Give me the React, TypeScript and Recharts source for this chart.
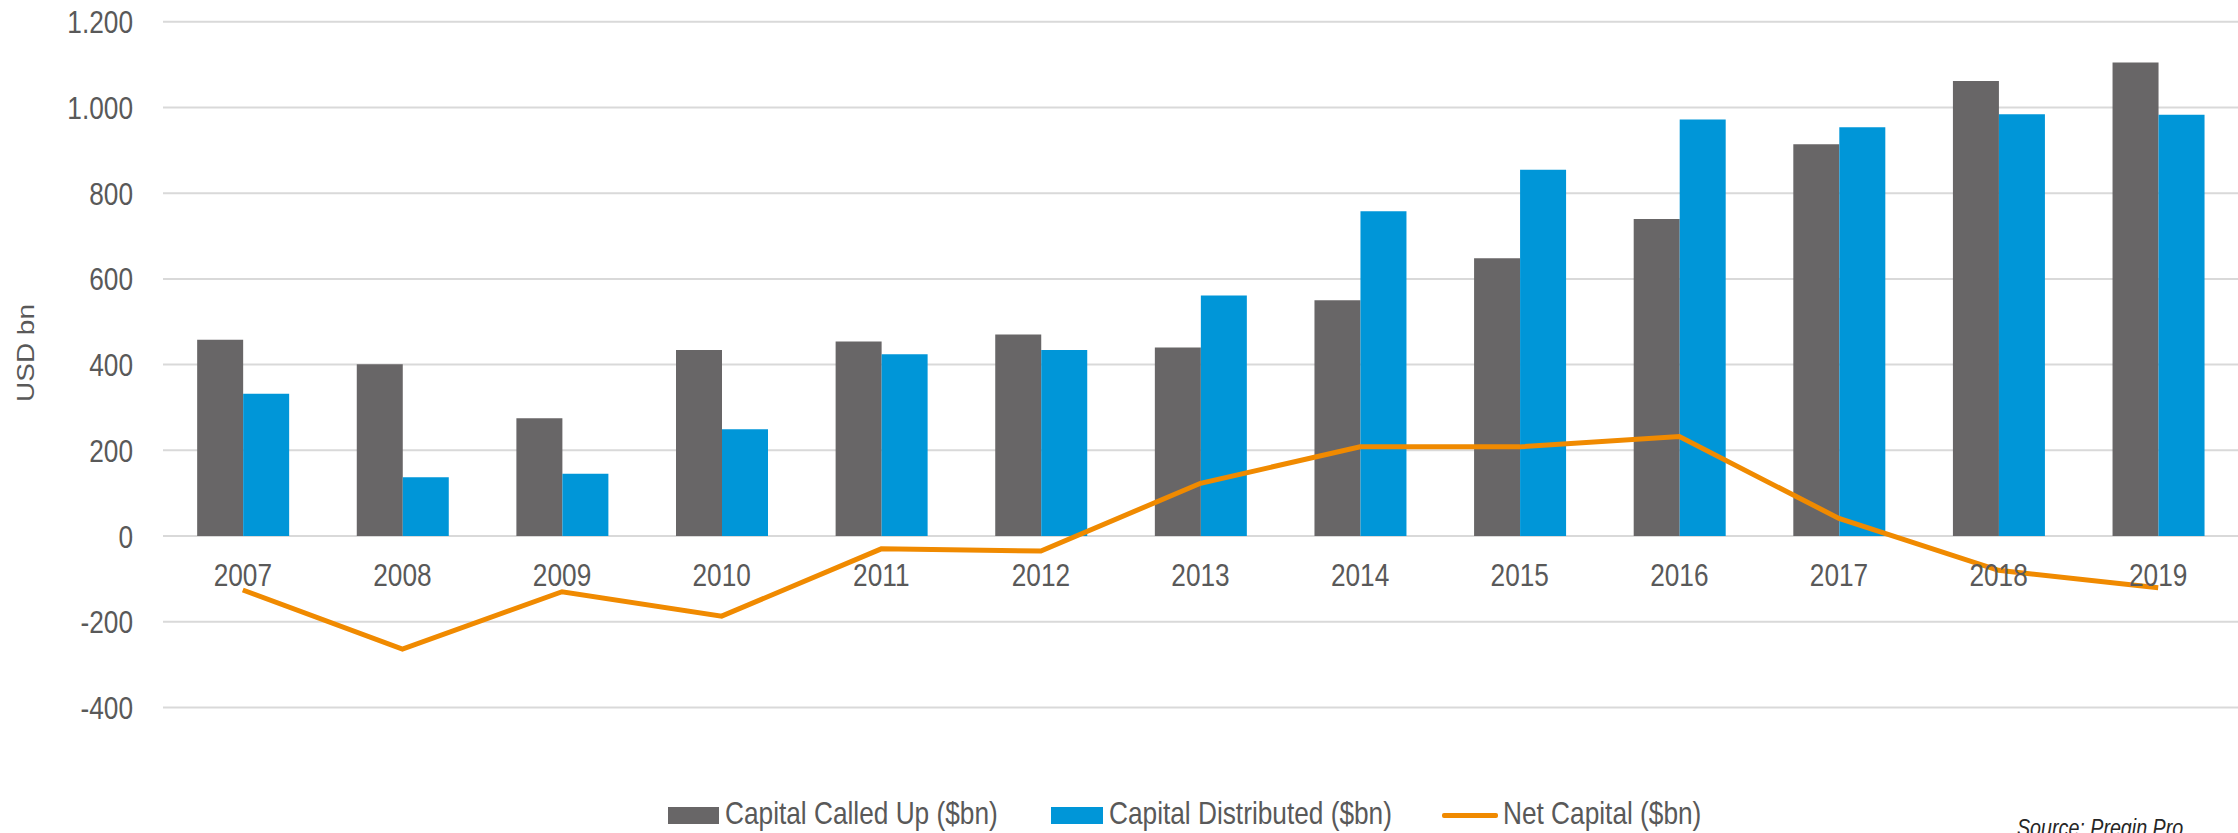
import React from 'react';
import { ComposedChart, Bar, Line, XAxis, YAxis, CartesianGrid } from 'recharts';

const years = ['2007', '2008', '2009', '2010', '2011', '2012', '2013', '2014', '2015', '2016', '2017', '2018', '2019'];
const capitalCalledUp = [458, 401, 275, 434, 454, 470, 440, 550, 648, 740, 914, 1062, 1105];
const capitalDistributed = [332, 137, 145, 249, 424, 434, 561, 758, 855, 972, 954, 984, 983];
const netCapital = [-126, -264, -130, -187, -30, -35, 123, 208, 208, 232, 41, -80, -121];
const yTicks = [-400, -200, 0, 200, 400, 600, 800, 1000, 1200];

const seriesNames = {
  called: 'Capital Called Up ($bn)',
  distributed: 'Capital Distributed ($bn)',
  net: 'Net Capital ($bn)',
};

const data = years.map((year, i) => ({
  year,
  called: capitalCalledUp[i],
  distributed: capitalDistributed[i],
  net: netCapital[i],
}));

const W = 2238;
const H = 833;
const M_TOP = 21.8;
const X_AXIS_H = 125.6;
const Y_AXIS_W = 163;
const Y_MIN = -400;
const Y_MAX = 1200;
const PLOT_H = H - M_TOP - X_AXIS_H;
const ZERO_Y = M_TOP + (PLOT_H * (Y_MAX - 0)) / (Y_MAX - Y_MIN);

const GREY = '#686667';
const BLUE = '#0096D8';
const ORANGE = '#F08A00';
const TEXT = '#595959';
const SANS = '"Liberation Sans", Arial, sans-serif';
const SQUEEZE = 0.82;

const fmt = (v: number) => {
  const a = Math.abs(v);
  const s = a >= 1000 ? `${Math.floor(a / 1000)}.${String(a % 1000).padStart(3, '0')}` : String(a);
  return (v < 0 ? '-' : '') + s;
};

const XTick = (props: any) => {
  const { x, payload } = props;
  return (
    <text
      transform={`translate(${x},${ZERO_Y + 49.7}) scale(${SQUEEZE},1)`}
      textAnchor="middle"
      fontFamily={SANS}
      fontSize={32}
      fill={TEXT}
    >
      {payload.value}
    </text>
  );
};

const YTick = (props: any) => {
  const { y, payload } = props;
  return (
    <text
      transform={`translate(133,${y + 11.5}) scale(${SQUEEZE},1)`}
      textAnchor="end"
      fontFamily={SANS}
      fontSize={32}
      fill={TEXT}
    >
      {fmt(payload.value)}
    </text>
  );
};

const legendText: React.CSSProperties = {
  display: 'inline-block',
  fontFamily: SANS,
  fontSize: 32,
  lineHeight: '36px',
  color: TEXT,
  whiteSpace: 'nowrap',
  transform: `scaleX(${SQUEEZE})`,
  transformOrigin: 'left center',
};

export default function App() {
  return (
    <div style={{ position: 'absolute', left: 0, top: 0, width: W, height: H, overflow: 'hidden', background: '#fff' }}>
      <ComposedChart
        width={W}
        height={H}
        data={data}
        margin={{ top: M_TOP, right: 0, bottom: 0, left: 0 }}
        barCategoryGap="21.4%"
        barGap={0}
      >
        <CartesianGrid vertical={false} stroke="#D9D9D9" strokeWidth={2} />
        <XAxis dataKey="year" axisLine={false} tickLine={false} height={X_AXIS_H} tick={XTick} interval={0} />
        <YAxis
          domain={[Y_MIN, Y_MAX]}
          ticks={yTicks}
          axisLine={false}
          tickLine={false}
          width={Y_AXIS_W}
          tick={YTick}
          interval={0}
        />
        <Bar dataKey="called" name={seriesNames.called} fill={GREY} isAnimationActive={false} />
        <Bar dataKey="distributed" name={seriesNames.distributed} fill={BLUE} isAnimationActive={false} />
        <Line
          dataKey="net"
          name={seriesNames.net}
          type="linear"
          stroke={ORANGE}
          strokeWidth={5}
          dot={false}
          activeDot={false}
          isAnimationActive={false}
        />
      </ComposedChart>

      <svg width={W} height={H} style={{ position: 'absolute', left: 0, top: 0, pointerEvents: 'none' }}>
        <text
          transform="translate(34.3,353) scale(0.88,1) rotate(-90)"
          textAnchor="middle"
          fontFamily={SANS}
          fontSize={28}
          fill={TEXT}
        >
          USD bn
        </text>
        <text
          transform={`translate(2017,836) scale(${SQUEEZE},1)`}
          fontFamily={SANS}
          fontStyle="italic"
          fontSize={24}
          fill="#262626"
        >
          Source: Preqin Pro
        </text>
      </svg>

      <div style={{ position: 'absolute', left: 668, top: 795, display: 'flex', alignItems: 'flex-start' }}>
        <div style={{ width: 51, height: 17, marginTop: 12, background: GREY, flex: 'none' }} />
        <span style={{ ...legendText, marginLeft: 6 }}>{seriesNames.called}</span>
      </div>
      <div style={{ position: 'absolute', left: 1051, top: 795, display: 'flex', alignItems: 'flex-start' }}>
        <div style={{ width: 52, height: 17, marginTop: 12, background: BLUE, flex: 'none' }} />
        <span style={{ ...legendText, marginLeft: 6 }}>{seriesNames.distributed}</span>
      </div>
      <div style={{ position: 'absolute', left: 1442, top: 795, display: 'flex', alignItems: 'flex-start' }}>
        <div style={{ width: 56, height: 5, marginTop: 18, background: ORANGE, borderRadius: 2, flex: 'none' }} />
        <span style={{ ...legendText, marginLeft: 5 }}>{seriesNames.net}</span>
      </div>
    </div>
  );
}
